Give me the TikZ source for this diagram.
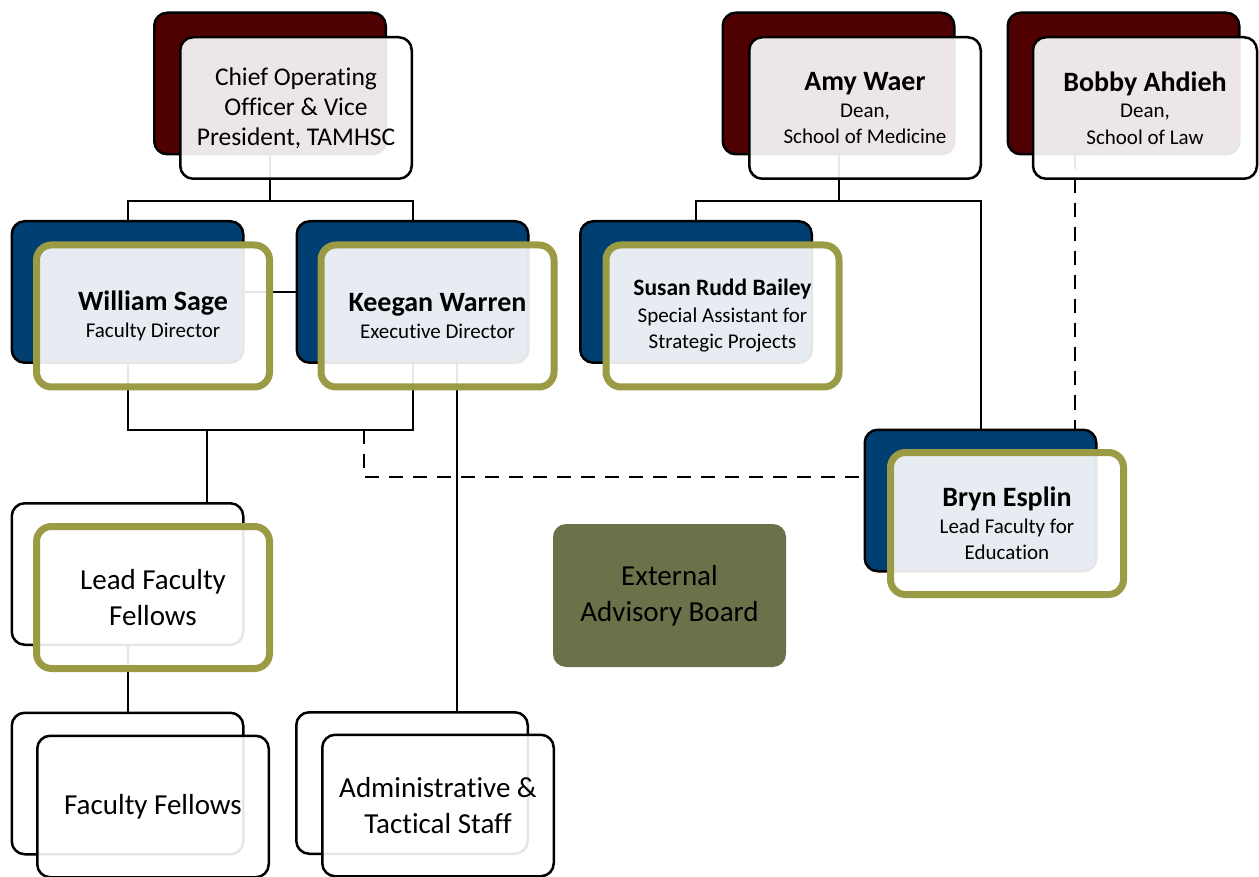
\documentclass[tikz,border=0pt]{standalone}
\usepackage{fontspec}
\setmainfont{Carlito}[Ligatures=NoCommon]
\usetikzlibrary{backgrounds, positioning}

\definecolor{deanred}{HTML}{4F0000}
\definecolor{staffnavy}{HTML}{003F72}
\definecolor{leadolive}{HTML}{9B9B45}
\definecolor{boardgreen}{HTML}{6B7148}

\tikzset{
  conn/.style={line width=2pt, black},
  dashconn/.style={conn, dash pattern=on 14pt off 10pt},
  backbox/.style={draw=black, line width=2.5pt, rounded corners=13pt,
    minimum width=231.5pt, minimum height=141.5pt, inner sep=0pt},
  frontbox/.style={backbox, fill=white, fill opacity=0.9, text opacity=1, align=center},
  leadbox/.style={frontbox, draw=leadolive, line width=7pt, rounded corners=15pt,
    minimum width=233pt, minimum height=142pt},
  namefont/.style={font=\fontsize{21}{26.5}\selectfont},
  bigfont/.style={font=\fontsize{29}{36}\selectfont},
}

\begin{document}
\begin{tikzpicture}[x=1pt, y=-1pt]
    \useasboundingbox (0,0) rectangle (1259,877);

    % top row: COO and the two deans
    \node[backbox, fill=deanred] (cooBg) at (270,83.5) {};
    \node[frontbox, font=\fontsize{25.5}{30}\selectfont] (coo) at (296,108)
        {Chief Operating\\Officer \& Vice\\President, TAMHSC};

    \node[backbox, fill=deanred] (waerBg) at (838.5,83.5) {};
    \node[frontbox, namefont] (waer) at (865,108)
        {{\fontsize{28}{28}\selectfont\bfseries Amy Waer}\\Dean,\\School of Medicine};

    \node[backbox, fill=deanred] (ahdiehBg) at (1123.5,83.5) {};
    \node[frontbox, namefont, minimum width=224pt] (ahdieh) at (1145,108)
        {{\fontsize{28}{28}\selectfont\bfseries Bobby Ahdieh}\\Dean,\\School of Law};

    % directors
    \node[backbox, fill=staffnavy] (sageBg) at (127.5,292) {};
    \node[leadbox, namefont] (sage) at (153,316)
        {{\fontsize{28}{28}\selectfont\bfseries William Sage}\\Faculty Director};

    \node[backbox, fill=staffnavy] (warrenBg) at (412.5,292) {};
    \node[leadbox, namefont] (warren) at (437.5,316)
        {{\fontsize{28}{28}\selectfont\bfseries Keegan Warren}\\Executive Director};

    \node[backbox, fill=staffnavy] (baileyBg) at (696,292) {};
    \node[leadbox, namefont] (bailey) at (722.5,316)
        {{\fontsize{23.5}{28}\selectfont\bfseries Susan Rudd Bailey}\\Special Assistant for\\Strategic Projects};

    \node[backbox, fill=staffnavy] (esplinBg) at (980.5,500.5) {};
    \node[leadbox, namefont] (esplin) at (1007,523.5)
        {{\fontsize{28}{28}\selectfont\bfseries Bryn Esplin}\\Lead Faculty for\\Education};

    % fellows and staff
    \node[backbox, fill=white] (leadBg) at (127.5,574) {};
    \node[leadbox, bigfont] (lead) at (153,597.5)
        {Lead Faculty\\Fellows};

    \node[backbox, fill=white] (fellowBg) at (127.5,783.5) {};
    \node[frontbox, bigfont] (fellow) at (153,806.5)
        {Faculty Fellows};

    \node[backbox, fill=white] (adminBg) at (412,783) {};
    \node[frontbox, bigfont] (admin) at (438,805.5)
        {Administrative \&\\Tactical Staff};

    \node[fill=boardgreen, rounded corners=13pt, minimum width=233pt, minimum height=143pt,
        align=center, bigfont] (board) at (669.5,595.5)
        {External\\Advisory Board};

    % connectors
    \begin{pgfonlayer}{background}
        \coordinate (cooJ) at (270,201);
        \coordinate (teamJ) at (207,430);
        \coordinate (dashJ) at (364,430);
        \coordinate (dashE) at (863,477);
        \coordinate (waerJ) at (838.5,201);

        \draw[conn] (cooBg.south) -- (cooJ);
        \draw[conn] (sageBg.north) |- (cooJ) -| (warrenBg.north);
        \draw[conn] (sageBg) -- (warrenBg);
        \draw[conn] (sageBg.south) |- (teamJ) -| (warrenBg.south);
        \draw[conn] (teamJ) -- (teamJ |- leadBg.north);
        \draw[dashconn] (dashJ) |- (dashE);
        \draw[conn] ([xshift=44.5pt]warrenBg.south) -- ([xshift=44.5pt]warrenBg.south |- adminBg.north);
        \draw[conn] (leadBg.south) -- (fellowBg.north);

        \draw[conn] (waerBg.south) -- (waerJ);
        \draw[conn] (baileyBg.north) |- (waerJ) -| (esplinBg.north);
        \draw[dashconn] ([xshift=-48.5pt]ahdiehBg.south) -- ([xshift=-48.5pt]ahdiehBg.south |- esplinBg.north);
    \end{pgfonlayer}

\end{tikzpicture}
\end{document}
